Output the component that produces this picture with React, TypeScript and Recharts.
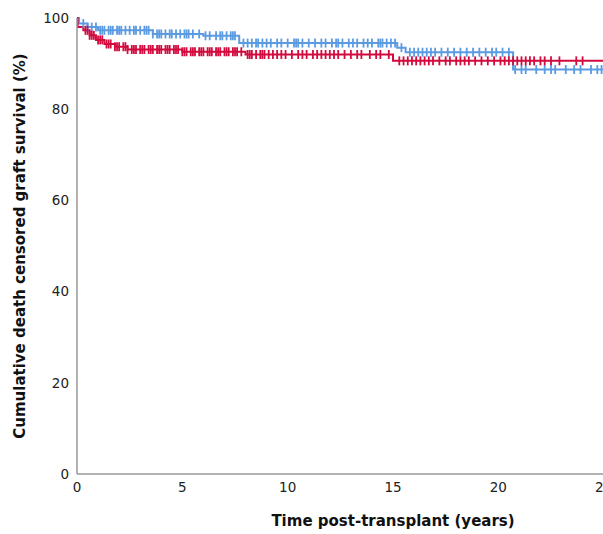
import { ComposedChart, Line, Scatter, XAxis, YAxis, Label } from "recharts";

// Kaplan-Meier steps (years, % surviving)
const blueTimes = [0, 0.1, 0.5, 1.0, 3.6, 6.0, 7.7, 15.2, 15.6, 20.7];
const blueSurv = [100, 98.8, 98.0, 97.3, 96.5, 96.1, 94.5, 93.5, 92.5, 88.7];

const redTimes = [0, 0.03, 0.3, 0.6, 0.9, 1.3, 1.8, 2.4, 5.0, 8.0, 15.0];
const redSurv = [100, 98.0, 97.3, 96.2, 95.2, 94.3, 93.7, 93.1, 92.6, 92.0, 90.6];

// censored cases (years)
const blueCensor = [
  0.3, 0.5, 0.7, 0.9, 1.1, 1.2, 1.3, 1.5, 1.6, 1.7, 1.9, 2.0, 2.1, 2.3, 2.5,
  2.7, 2.8, 3.0, 3.2, 3.3, 3.4, 3.6, 3.8, 3.9, 4.0, 4.2, 4.4, 4.5, 4.7, 4.9,
  5.1, 5.2, 5.3, 5.5, 5.8, 6.1, 6.3, 6.6, 6.8, 6.9, 7.1, 7.3, 7.4, 7.5, 7.9,
  8.1, 8.3, 8.5, 8.6, 8.8, 9.0, 9.2, 9.5, 9.7, 10.0, 10.3, 10.4, 10.5, 10.7,
  11.0, 11.3, 11.6, 11.8, 12.1, 12.3, 12.4, 12.6, 12.9, 13.1, 13.3, 13.6, 13.8,
  14.0, 14.3, 14.4, 14.5, 14.7, 14.9, 15.1, 15.4, 15.8, 16.0, 16.2, 16.4, 16.6,
  16.8, 17.0, 17.3, 17.6, 17.9, 18.2, 18.5, 18.8, 19.1, 19.4, 19.7, 19.9, 20.2,
  20.5, 20.8, 21.1, 21.3, 21.8, 22.2, 22.5, 22.7, 23.2, 23.6, 23.9, 24.4, 24.7,
  24.9, 25.3, 25.6,
];
const redCensor = [
  0.4, 0.5, 0.6, 0.7, 0.8, 1.0, 1.1, 1.2, 1.4, 1.5, 1.6, 1.8, 1.9, 2.0, 2.2,
  2.3, 2.4, 2.6, 2.7, 2.8, 3.0, 3.1, 3.2, 3.4, 3.5, 3.6, 3.8, 3.9, 4.0, 4.2,
  4.3, 4.4, 4.6, 4.7, 4.8, 5.0, 5.1, 5.2, 5.4, 5.5, 5.6, 5.8, 5.9, 6.0, 6.2,
  6.3, 6.4, 6.6, 6.7, 6.8, 7.0, 7.1, 7.2, 7.4, 7.5, 7.6, 7.8, 8.1, 8.2, 8.3,
  8.5, 8.7, 8.8, 8.9, 9.1, 9.3, 9.5, 9.7, 9.9, 10.2, 10.5, 10.7, 10.9, 11.2,
  11.4, 11.6, 11.8, 12.0, 12.2, 12.4, 12.7, 13.0, 13.3, 13.5, 13.9, 14.2, 14.4,
  14.8, 15.3, 15.5, 15.7, 15.9, 16.1, 16.3, 16.5, 16.7, 16.9, 17.2, 17.5, 17.7,
  18.0, 18.2, 18.4, 18.6, 18.9, 19.2, 19.5, 19.8, 20.1, 20.3, 20.5, 20.7, 20.9,
  21.1, 21.3, 21.5, 21.7, 22.0, 22.2, 22.5, 22.9, 23.7, 24.0, 25.4, 25.8,
];

const xTicks = [0, 5, 10, 15, 20, 25, 30];
const yTicks = [0, 20, 40, 60, 80, 100];

const BLUE = "#5b9be2";
const RED = "#d20a3e";

function survAt(times: number[], surv: number[], t: number) {
  let s = surv[0];
  for (let i = 0; i < times.length; i++) if (times[i] <= t) s = surv[i];
  return s;
}

function curve(times: number[], surv: number[], censor: number[]) {
  const pts = times.map((t, i) => ({ t, s: surv[i] }));
  const end = Math.max(...censor);
  pts.push({ t: end, s: surv[surv.length - 1] });
  return pts;
}

function marks(times: number[], surv: number[], censor: number[]) {
  return censor.map((t) => ({ t, s: survAt(times, surv, t) }));
}

const blueLine = curve(blueTimes, blueSurv, blueCensor);
const redLine = curve(redTimes, redSurv, redCensor);
const blueMarks = marks(blueTimes, blueSurv, blueCensor);
const redMarks = marks(redTimes, redSurv, redCensor);

const tick = (color: string) => (p: any) => (
  <line x1={p.cx} x2={p.cx} y1={p.cy - 4.5} y2={p.cy + 4.5} stroke={color} strokeWidth={1.8} />
);

const font = "DejaVu Sans, sans-serif";

export default function App() {
  return (
    <div style={{ position: "absolute", left: 8, top: 8, width: 595, height: 526, overflow: "hidden" }}>
      <ComposedChart width={720} height={526} margin={{ top: 10, right: 19, left: 0, bottom: 0 }}>
        <XAxis
          dataKey="t"
          type="number"
          domain={[0, 30]}
          ticks={xTicks}
          interval={0}
          allowDataOverflow
          tickLine={false}
          axisLine={{ stroke: "#999", strokeWidth: 1.5 }}
          tick={{ fill: "#222", fontSize: 13.5, fontFamily: font }}
          height={60}
        >
          <Label
            value="Time post-transplant (years)"
            position="insideBottom"
            offset={8}
            style={{ fill: "#111", fontSize: 15, fontWeight: 700, fontFamily: font }}
          />
        </XAxis>
        <YAxis
          dataKey="s"
          type="number"
          domain={[0, 100]}
          ticks={yTicks}
          tickLine={false}
          axisLine={{ stroke: "#999", strokeWidth: 1.5 }}
          tick={{ fill: "#222", fontSize: 13.5, fontFamily: font }}
          width={69}
        >
          <Label
            value="Cumulative death censored graft survival (%)"
            angle={-90}
            position="insideLeft"
            offset={12}
            style={{ textAnchor: "middle", fill: "#111", fontSize: 15, fontWeight: 700, fontFamily: font }}
          />
        </YAxis>
        <Line data={blueLine} dataKey="s" type="stepAfter" stroke={BLUE} strokeWidth={2} dot={false} isAnimationActive={false} />
        <Scatter data={blueMarks} dataKey="s" shape={tick(BLUE)} isAnimationActive={false} />
        <Line data={redLine} dataKey="s" type="stepAfter" stroke={RED} strokeWidth={2} dot={false} isAnimationActive={false} />
        <Scatter data={redMarks} dataKey="s" shape={tick(RED)} isAnimationActive={false} />
      </ComposedChart>
    </div>
  );
}
